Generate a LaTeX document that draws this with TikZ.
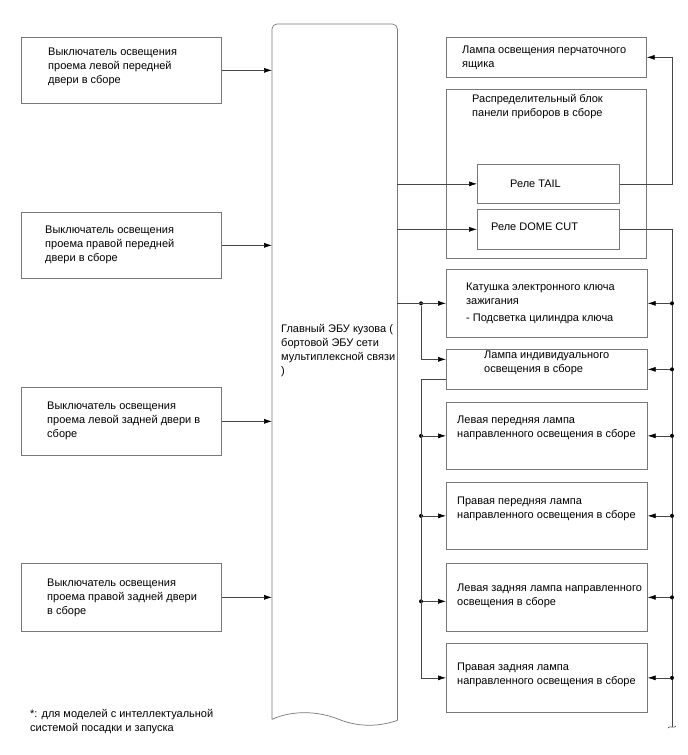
\documentclass[tikz,border=0pt]{standalone}
\usepackage{fontspec}
\setmainfont{Liberation Sans}
\usetikzlibrary{positioning,arrows.meta}
\definecolor{edgegray}{RGB}{120,120,120}
\definecolor{wiregray}{RGB}{70,70,70}

\begin{document}
\begin{tikzpicture}[x=1pt, y=-1pt,
  bx/.style={draw=edgegray, line width=0.7pt, anchor=north west, inner sep=0pt},
  tx/.style={anchor=west, inner sep=0pt, align=left, font=\fontsize{11}{14}\selectfont},
  ar/.style={-{Latex[length=8pt,width=5pt,black]}, line width=0.6pt, draw=wiregray},
  wr/.style={line width=0.6pt, draw=wiregray},
  dot/.style={circle, fill=black, inner sep=0pt, minimum size=4pt}
]
\useasboundingbox (0,0) rectangle (688,755);

% door switches
\node[bx, minimum width=200pt, minimum height=66pt,
  label={[tx, xshift=27pt, yshift=3pt]west:{Выключатель освещения\\проема левой передней\\двери в сборе}}] (swlf) at (21,37) {};
\node[bx, minimum width=200pt, minimum height=66pt,
  label={[tx, xshift=24pt]west:{Выключатель освещения\\проема правой передней\\двери в сборе}}] (swrf) at (21,212) {};
\node[bx, minimum width=200pt, minimum height=68pt,
  label={[tx, xshift=26pt]west:{Выключатель освещения\\проема левой задней двери в\\сборе}}] (swlr) at (21,387) {};
\node[bx, minimum width=200pt, minimum height=68pt,
  label={[tx, xshift=26pt]west:{Выключатель освещения\\проема правой задней двери\\в сборе}}] (swrr) at (21,563) {};

% main body ECU
\node[minimum width=125pt, minimum height=695pt, anchor=north west, inner sep=0pt,
  label={[tx, xshift=9pt, yshift=21pt]west:{Главный ЭБУ кузова (\\бортовой ЭБУ сети\\мультиплексной связи\\)}}] (ecu) at (272,24) {};
\draw[edgegray, line width=0.7pt, rounded corners=5pt] (ecu.south west) -- (ecu.north west) -- (ecu.north east) -- ([yshift=-1pt]ecu.south east);
\draw[edgegray, line width=0.7pt] ([yshift=-1pt]ecu.south east) .. controls (375,728) and (355,726) .. (338,719)
  .. controls (318,711) and (292,710) .. (ecu.south west);

% junction block and loads
\node[bx, minimum width=200pt, minimum height=40pt,
  label={[tx, xshift=16pt]west:{Лампа освещения перчаточного\\ящика}}] (glove) at (446,37) {};
\node[bx, minimum width=200pt, minimum height=169pt,
  label={[tx, anchor=north west, xshift=26pt, yshift=-5pt]north west:{Распределительный блок\\панели приборов в сборе}}] (jb) at (446,89) {};
\node[bx, fill=white, minimum width=142pt, minimum height=39pt,
  label={[tx, xshift=33pt]west:{Реле TAIL}}] (tail) at (477,164) {};
\node[bx, fill=white, minimum width=142pt, minimum height=40pt,
  label={[tx, xshift=14pt, yshift=3pt]west:{Реле DOME CUT}}] (dome) at (477,209) {};
\node[bx, minimum width=201pt, minimum height=68pt,
  label={[tx, xshift=20pt]west:{Катушка электронного ключа\\зажигания\\[3pt]- Подсветка цилиндра ключа}}] (key) at (446,269) {};
\node[bx, minimum width=201pt, minimum height=40pt,
  label={[tx, xshift=38pt, yshift=6pt]west:{Лампа индивидуального\\освещения в сборе}}] (ind) at (446,349) {};
\node[bx, minimum width=201pt, minimum height=67pt,
  label={[tx, xshift=11pt, yshift=8pt]west:{Левая передняя лампа\\направленного освещения в сборе}}] (lf) at (446,402) {};
\node[bx, minimum width=201pt, minimum height=67pt,
  label={[tx, xshift=11pt, yshift=7pt]west:{Правая передняя лампа\\направленного освещения в сборе}}] (rf) at (446,482) {};
\node[bx, minimum width=201pt, minimum height=68pt,
  label={[tx, xshift=11pt, yshift=2pt]west:{Левая задняя лампа направленного\\освещения в сборе}}] (lr) at (446,563) {};
\node[bx, minimum width=201pt, minimum height=69pt,
  label={[tx, xshift=11pt, yshift=3pt]west:{Правая задняя лампа\\направленного освещения в сборе}}] (rr) at (446,643) {};

\node[tx] (note) at (30,722) {*: для моделей с интеллектуальной\\системой посадки и запуска};

% bus lines
\coordinate (lbus) at (421,0);
\coordinate (rbus) at (672,0);
\coordinate (rend) at (672,727);
\coordinate (lrin) at ([yshift=-4pt]lr.west);

% switch inputs
\draw[ar] (swlf.east) -- (swlf.east -| ecu.west);
\draw[ar] (swrf.east) -- (swrf.east -| ecu.west);
\draw[ar] (swlr.east) -- (swlr.east -| ecu.west);
\draw[ar] (swrr.east) -- (swrr.east -| ecu.west);

% outputs to relays
\draw[ar] (tail.west -| ecu.east) -- (tail.west);
\draw[ar] (dome.west -| ecu.east) -- (dome.west);
\draw[ar] (tail.east) -- (tail.east -| rbus) |- (glove.east);

% left feed
\node[dot] (ld0) at (lbus |- key.west) {};
\draw[ar] (key.west -| ecu.east) -- (key.west);
\draw[ar] (ld0) |- ([yshift=10pt]ind.west);
\node[dot] (ld1) at (lbus |- lf.west) {};
\node[dot] (ld2) at (lbus |- rf.west) {};
\node[dot] (ld3) at (lbus |- lrin) {};
\draw[ar] ([yshift=-10pt]ind.west) -| (lbus |- rr.west) -- (rr.west);
\draw[ar] (ld1) -- (lf.west); \draw[ar] (ld2) -- (rf.west);
\draw[ar] (ld3) -- (lrin);

% right feed
\draw[wr] (dome.east) -| (rend);
\draw[wr] (rend) ++(-4,1) .. controls +(2,-3) and +(-2,3) .. ++(8,-2);
\node[dot] (rd0) at (rbus |- key.east) {};
\node[dot] (rd1) at (rbus |- ind.east) {};
\node[dot] (rd2) at (rbus |- lf.east) {};
\node[dot] (rd3) at (rbus |- rf.east) {};
\node[dot] (rd4) at (rbus |- lr.east) {};
\node[dot] (rd5) at (rbus |- rr.east) {};
\draw[ar] (rd0) -- (key.east); \draw[ar] (rd1) -- (ind.east);
\draw[ar] (rd2) -- (lf.east); \draw[ar] (rd3) -- (rf.east);
\draw[ar] (rd4) -- (lr.east); \draw[ar] (rd5) -- (rr.east);
\end{tikzpicture}
\end{document}
